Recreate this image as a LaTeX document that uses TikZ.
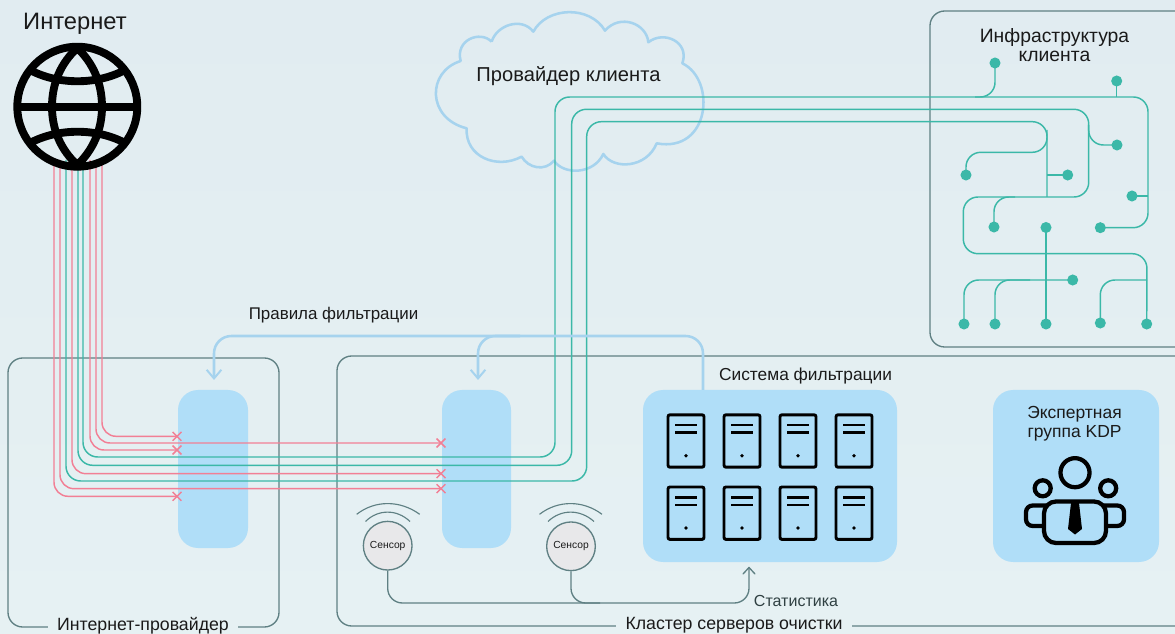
\documentclass[tikz,border=0pt]{standalone}
\usepackage{fontspec}
\setmainfont{Liberation Sans}
\usetikzlibrary{arrows.meta,shapes.misc}
\definecolor{bgtop}{HTML}{E1ECF1}
\definecolor{bgbot}{HTML}{E6F1F3}
\definecolor{frameC}{HTML}{5F8083}
\definecolor{tealC}{HTML}{3BB8A8}
\definecolor{redC}{HTML}{F27F95}
\definecolor{boxC}{HTML}{B0DEF8}
\definecolor{ruleC}{HTML}{A6D3EE}
\definecolor{sensC}{HTML}{E8E8EA}
\definecolor{txtC}{HTML}{1A1A1A}
\tikzset{
  px/.style={x=0.75pt,y=-0.75pt},
  frameline/.style={draw=frameC,line width=1pt,rounded corners=11pt},
  bluebox/.style={fill=boxC,rounded corners=15pt,draw=none},
  redline/.style={draw=redC,line width=1.1pt,rounded corners=10.5pt},
  tealline/.style={draw=tealC,line width=1.1pt,rounded corners=11pt},
  netdot/.style={circle,fill=tealC,inner sep=0pt,minimum size=8.3pt},
  xmark/.style={cross out,draw=redC,line width=1.1pt,inner sep=0pt,minimum size=5.5pt},
  rulearrow/.style={draw=ruleC,line width=1.9pt,rounded corners=13pt},
  statline/.style={draw=frameC,line width=1pt,rounded corners=11pt},
  sensornode/.style={circle,draw=frameC,fill=sensC,line width=1pt,inner sep=0pt,minimum size=36.5pt,font=\fontsize{7.7}{8}\selectfont,text=txtC},
  waveline/.style={draw=frameC,line width=0.85pt},
  lbl/.style={text=txtC,inner sep=0pt,font=\fontsize{12.7}{15}\selectfont},
  framelbl/.style={text=txtC,fill=bgbot,inner sep=0pt,inner xsep=7pt,font=\fontsize{13.3}{15}\selectfont},
  srv/.pic={
    \draw[black,line width=2.2pt,rounded corners=1.5pt] (0,0) rectangle (36,52.4);
    \draw[black,line width=2.1pt] (7.2,10.3) -- (28.8,10.3) (7.2,18) -- (28.8,18);
    \fill[black] (18,41) circle (1.4pt);
  }
}
\begin{document}
\begin{tikzpicture}[px]
\useasboundingbox (0,0) rectangle (1175,634);
\shade[top color=bgtop,bottom color=bgbot] (0,0) rectangle (1175,634);

% frames
\draw[frameline] (1175,11) -- (930,11) -- (930,347) -- (1175,347);
\draw[frameline] (8,358) rectangle (279,627);
\draw[frameline] (1175,356) -- (337,356) -- (337,626) -- (1175,626);
\node[framelbl] (lblisp) at (143,625.5) {Интернет-провайдер};
\node[framelbl] (lblcluster) at (734,625) {Кластер серверов очистки};

% blue boxes
\path[bluebox] (178,390) rectangle (248,548);
\path[bluebox] (442,390) rectangle (511,548);
\path[bluebox] (643,390) rectangle (897,562);
\path[bluebox] (993,390) rectangle (1159,562);
\coordinate (ispbox) at (214,380);
\coordinate (scrubbox) at (478,380);
\coordinate (filterbox) at (703,390);
\coordinate (filterbot) at (749,567);

% cloud
\begin{scope}[shift={(430,0)},x=0.25pt,y=-0.25pt]
\draw[draw=ruleC,line width=1.9pt,line join=round] (185,125)
 .. controls (200,75) and (275,50) .. (310,95)
 .. controls (350,20) and (480,15) .. (525,92)
 .. controls (570,40) and (650,70) .. (655,127)
 .. controls (700,90) and (780,125) .. (757,190)
 .. controls (860,240) and (840,460) .. (680,430)
 .. controls (650,505) and (550,510) .. (520,462)
 .. controls (490,525) and (400,525) .. (372,482)
 .. controls (345,515) and (295,505) .. (275,470)
 .. controls (200,510) and (105,470) .. (110,385)
 .. controls (-10,355) and (-10,215) .. (92,183)
 .. controls (75,120) and (150,90) .. (185,125);
\end{scope}
\node[lbl,font=\fontsize{15.1}{18}\selectfont] (cloudlbl) at (568.5,76.5) {Провайдер клиента};

% globe
\coordinate (g1) at (54,160);\coordinate (g2) at (60,160);\coordinate (g3) at (66,160);
\coordinate (g4) at (72,160);\coordinate (g5) at (78,160);\coordinate (g6) at (83,160);
\coordinate (g7) at (90,160);\coordinate (g8) at (96,160);\coordinate (g9) at (102,160);

% crosses
\node[xmark] (xa) at (177,436.3) {};
\node[xmark] (xb) at (441,443) {};
\node[xmark] (xc) at (177,450) {};
\node[xmark] (xd) at (441,473.7) {};
\node[xmark] (xe) at (441,488.7) {};
\node[xmark] (xf) at (177,496.3) {};

% red lines
\draw[redline] (g9) |- (xa.center);
\draw[redline] (g8) |- (xb.center);
\draw[redline] (g7) |- (xc.center);
\draw[redline] (g4) |- (xd.center);
\draw[redline] (g2) |- (xe.center);
\draw[redline] (g1) |- (xf.center);

% infrastructure dots
\node[netdot] (d1) at (995,63) {};
\node[netdot] (d2) at (1116.7,81) {};
\node[netdot] (d3) at (1117,145) {};
\node[netdot] (d4) at (966,175) {};
\node[netdot] (d5) at (1067.7,175) {};
\node[netdot] (d6) at (1132,196) {};
\node[netdot] (d7) at (994,227) {};
\node[netdot] (d8) at (1046,227.5) {};
\node[netdot] (d9) at (1100.3,227.7) {};
\node[netdot] (d10) at (1072.7,280) {};
\node[netdot] (d11) at (964,324) {};
\node[netdot] (d12) at (995,324) {};
\node[netdot] (d13) at (1046,324) {};
\node[netdot] (d14) at (1100.3,323) {};
\node[netdot] (d15) at (1146.7,324) {};

% teal trunks
\draw[tealline] (g6) -- (83,457) -- (555,457) -- (555,97) -- (1148,97) -- (1148,227.7) -- (d9.center);
\draw[tealline] (g5) -- (78,465.3) -- (571.7,465.3) -- (571.7,109.3) -- (1088.7,109.3) -- (1088.7,197) -- (963.3,197) -- (963.3,253.7) -- (1147,253.7) -- (d15.center);
\draw[tealline] (g3) -- (66,481) -- (586.7,481) -- (586.7,121.7) -- (1047,121.7) -- (1047,197);
% teal branches
\draw[tealline] (d1.center) -- (995,97) -- (975,97);
\draw[tealline] (d2.center) -- (1116.7,97);
\draw[tealline] (1088.7,125) -- (1088.7,145) -- (d3.center);
\draw[tealline] (1047,130) -- (1047,152.3) -- (966,152.3) -- (d4.center);
\draw[tealline] (1047,175) -- (d5.center);
\draw[tealline] (1148,196) -- (d6.center);
\draw[tealline] (1015,197) -- (994,197) -- (d7.center);
\draw[tealline] (d8.center) -- (d13.center);
\draw[tealline] (d10.center) -- (964,280) -- (d11.center);
\draw[tealline] (1030,280) -- (995,280) -- (d12.center);
\draw[tealline] (1147,280) -- (1100.3,280) -- (d14.center);

% filtering rules
\draw[rulearrow,-{Straight Barb[length=6.5pt,width=11pt,line width=1.5pt]}] (filterbox) -- (703,336) -- (214,336) -- (ispbox);
\draw[rulearrow,-{Straight Barb[length=6.5pt,width=11pt,line width=1.5pt]}] (520,336) -- (478,336) -- (scrubbox);

% servers
\foreach \sx in {668,724,780,836}{
  \foreach \sy in {414.8,487}{
    \pic at (\sx,\sy) {srv};
  }
}

% people icon
\begin{scope}[black,line width=3.2pt]
\draw (1075,472.7) circle (10.9pt);
\draw (1042.7,488.3) circle (6pt);
\draw (1108.2,488.3) circle (6pt);
\draw[rounded corners=5pt] (1046,505.5) -- (1026,505.5) -- (1026,526) -- (1044,526);
\draw[rounded corners=5pt] (1104,505.5) -- (1124,505.5) -- (1124,526) -- (1106,526);
\draw[rounded corners=9pt,fill=boxC] (1044,543) -- (1044,501.5) -- (1106,501.5) -- (1106,543) -- cycle;
\fill (1071,503) -- (1079,503) -- (1082,529) -- (1075,534.5) -- (1068,529) -- cycle;
\end{scope}

% sensors
\node[sensornode] (s1) at (387.7,545.7) {Сенсор};
\node[sensornode] (s2) at (571,546.3) {Сенсор};
\draw[waveline] (356.7,514.3) .. controls (375,500) and (400,500) .. (419.7,514.3);
\draw[waveline] (365.5,521.5) .. controls (378,509) and (397,509) .. (410,521.5);
\draw[waveline] (539.5,514.3) .. controls (558,500) and (583,500) .. (602,514.3);
\draw[waveline] (548,521.5) .. controls (561,509) and (580,509) .. (594,521.5);
\draw[statline] (s1) -- (387.7,603) -- (749,603) -- (filterbot) ;
\draw[statline] (s2) -- (571,603) -- (600,603);
\draw[draw=frameC,line width=1pt,line cap=round] (743,574) -- (749,567.5) -- (755,574);

% labels
\node[lbl,font=\fontsize{17.8}{20}\selectfont] (inetlbl) at (75,23.5) {Интернет};
\node[lbl,font=\fontsize{14.5}{14.2}\selectfont,align=center] (infralbl) at (1054.5,45) {Инфраструктура\\клиента};
\node[lbl] (ruleslbl) at (333.5,315.5) {Правила фильтрации};
\node[lbl,font=\fontsize{13}{15}\selectfont] (filterlbl) at (805.5,376.5) {Система фильтрации};
\node[lbl,font=\fontsize{13.1}{14.2}\selectfont,align=center] (kdplbl) at (1074.5,424) {Экспертная\\группа KDP};
\node[lbl,font=\fontsize{12}{14}\selectfont,text=frameC!50!black] (statlbl) at (796,600.5) {Статистика};

% globe drawing (above the lines)
\begin{scope}[black,line width=5.9pt]
\draw[fill=none] (77.3,106.7) circle (45pt);
\draw (18,106.7) -- (137,106.7);
\draw[line join=round] (77.3,48) .. controls (93,63) and (102,83) .. (102,106.7) .. controls (102,130) and (93,150) .. (77.3,165)
  .. controls (61,150) and (52,130) .. (52,106.7) .. controls (52,83) and (61,63) .. (77.3,48) -- cycle;
\draw (30,70) .. controls (58,85) and (97,85) .. (125,70);
\draw (30,143) .. controls (58,128) and (97,128) .. (125,143);
\end{scope}
\end{tikzpicture}
\end{document}
